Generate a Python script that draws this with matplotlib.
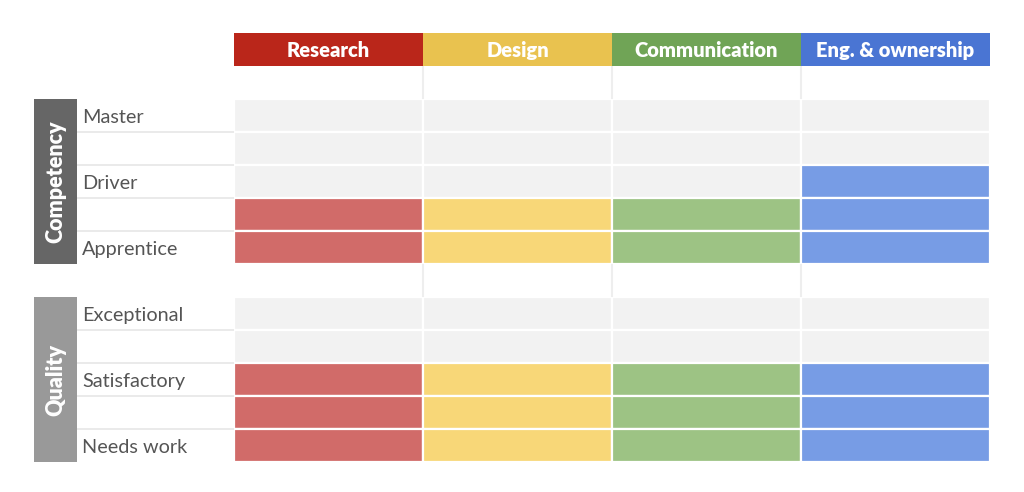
import matplotlib
matplotlib.use("Agg")
import matplotlib.pyplot as plt
from matplotlib.patches import Rectangle

# ---- data ----
columns = ["Research", "Design", "Communication", "Eng. & ownership"]
header_colors = ["#BA261A", "#E9C24F", "#70A456", "#4A75D3"]
fill_colors = ["#D16B69", "#F8D778", "#9DC384", "#779CE5"]
empty_color = "#F2F2F2"

groups = ["Competency", "Quality"]
group_colors = ["#666666", "#999999"]
competency_levels = ["Master", "", "Driver", "", "Apprentice"]
quality_levels = ["Exceptional", "", "Satisfactory", "", "Needs work"]
competency_filled = [2, 2, 2, 3]   # filled levels counted from the bottom
quality_filled = [3, 3, 3, 3]

level_sets = [competency_levels, quality_levels]
filled_sets = [competency_filled, quality_filled]

plt.rcParams['font.family'] = ['Lato', 'DejaVu Sans']

fig = plt.figure(figsize=(10.24, 4.92), dpi=100)
ax = fig.add_axes([0, 0, 1, 1])
# column width 189 px, row height 33 px; table starts at x=234px, y=33px
colw, rowh = 189.0, 33.0
ax.set_xlim(-234 / colw, 4 + (1024 - 990) / colw)
ax.set_ylim(13 + (492 - 462) / rowh, -33 / rowh)
ax.axis("off")

ncol = len(columns)
# header row (row 0)
for j, (name, c) in enumerate(zip(columns, header_colors)):
    ax.add_patch(Rectangle((j, 0), 1, 1, facecolor=c, edgecolor="none"))
    ax.text(j + 0.5, 0.52, name, ha="center", va="center", color="white",
            fontsize=14.5, fontweight="heavy")

# gap rows: faint vertical separators
for gap_row in (1, 7):
    for j in range(1, ncol):
        ax.plot([j, j], [gap_row, gap_row + 1], color="#EEEEEE", lw=1.5,
                solid_capstyle="butt")

start_rows = [2, 8]
for g, (gname, gcol, levels, filled, r0) in enumerate(
        zip(groups, group_colors, level_sets, filled_sets, start_rows)):
    n = len(levels)
    # cells
    for j in range(ncol):
        for i in range(n):
            is_filled = i >= n - filled[j]
            fc = fill_colors[j] if is_filled else empty_color
            ax.add_patch(Rectangle((j, r0 + i), 1, 1, facecolor=fc,
                                   edgecolor="white", lw=1.6))
    # group box
    bx0 = (34 - 234) / colw
    bx1 = (77 - 234) / colw
    ax.add_patch(Rectangle((bx0, r0), bx1 - bx0, n, facecolor=gcol,
                           edgecolor="none"))
    ax.text((bx0 + bx1) / 2, r0 + n / 2, gname, rotation=90, ha="center",
            va="center", color="white", fontsize=15.5, fontweight="heavy")
    # row labels
    for i, lab in enumerate(levels):
        ax.text((82 - 234) / colw, r0 + i + 0.56, lab, ha="left", va="center",
                color="#555555", fontsize=14.3)
    # separators
    for i in range(1, n):
        ax.plot([bx1, 0], [r0 + i, r0 + i], color="#E6E6E6", lw=1.2,
                solid_capstyle="butt")

fig.savefig("out.png", dpi=100, facecolor="white")
